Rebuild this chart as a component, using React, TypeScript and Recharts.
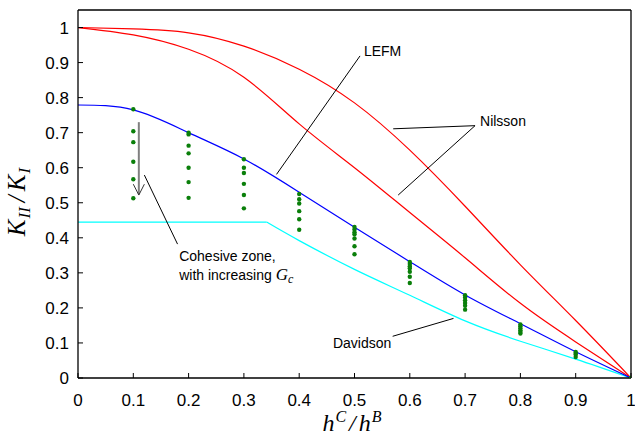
import {
  ComposedChart,
  Line,
  Scatter,
  XAxis,
  YAxis,
  ReferenceLine,
  ReferenceDot,
} from "recharts";

// crack length ratio h^C/h^B sampled along the curves
const ratioX = [0, 0.1, 0.2, 0.3, 0.4, 0.5, 0.6, 0.7, 0.8, 0.9, 1];
const nilssonUpper = [1, 0.996, 0.985, 0.947, 0.881, 0.785, 0.65, 0.49, 0.323, 0.164, 0];
const nilssonLower = [1, 0.979, 0.938, 0.858, 0.725, 0.6, 0.472, 0.343, 0.213, 0.103, 0];
const lefm = [0.779, 0.765, 0.7, 0.625, 0.53, 0.43, 0.332, 0.237, 0.155, 0.075, 0];

// Davidson: plateau, then a decaying branch
const davidsonFlatX = [0, 0.341];
const davidsonFlat = [0.445, 0.445];
const davidsonX = [0.341, 0.4, 0.5, 0.6, 0.7, 0.8, 0.9, 1];
const davidson = [0.445, 0.392, 0.31, 0.236, 0.163, 0.105, 0.054, 0];

// cohesive zone results, one column per ratio, G_c increasing downwards
const czX = [0.1, 0.2, 0.3, 0.4, 0.5, 0.6, 0.7, 0.8, 0.9, 1];
const czValues = [
  [0.767, 0.704, 0.673, 0.617, 0.567, 0.513],
  [0.7, 0.695, 0.663, 0.641, 0.6, 0.559, 0.514],
  [0.624, 0.6, 0.585, 0.554, 0.522, 0.484],
  [0.525, 0.51, 0.498, 0.476, 0.453, 0.423],
  [0.431, 0.424, 0.416, 0.41, 0.398, 0.376, 0.353],
  [0.331, 0.325, 0.319, 0.313, 0.303, 0.289, 0.271],
  [0.236, 0.23, 0.222, 0.214, 0.206, 0.195],
  [0.153, 0.148, 0.142, 0.136, 0.131, 0.127],
  [0.074, 0.071, 0.067, 0.06],
  [0],
];

const xTicks = [0, 0.1, 0.2, 0.3, 0.4, 0.5, 0.6, 0.7, 0.8, 0.9, 1];
const yTicks = [0, 0.1, 0.2, 0.3, 0.4, 0.5, 0.6, 0.7, 0.8, 0.9, 1];

const pts = (xs: number[], ys: number[]) => xs.map((x, i) => ({ x, y: ys[i] }));
const czPoints = czX.flatMap((x, i) => czValues[i].map((y) => ({ x, y })));

const SANS = "'Liberation Sans', Arial, sans-serif";
const SERIF = "'Liberation Serif', 'Times New Roman', serif";
const TICK = 5;

const BottomTick = ({ x, y, payload }: any) => (
  <g>
    <line x1={x} x2={x} y1={y} y2={y - TICK} stroke="#000" />
    <text x={x} y={y + 28} textAnchor="middle" fontSize={17} fontFamily={SANS} fill="#000">
      {String(payload.value)}
    </text>
  </g>
);
const TopTick = ({ x, y }: any) => <line x1={x} x2={x} y1={y} y2={y + TICK} stroke="#000" />;
const LeftTick = ({ x, y, payload }: any) => (
  <g>
    <line x1={x} x2={x + TICK} y1={y} y2={y} stroke="#000" />
    <text x={x - 9} y={y + 6} textAnchor="end" fontSize={17} fontFamily={SANS} fill="#000">
      {String(payload.value)}
    </text>
  </g>
);
const RightTick = ({ x, y }: any) => <line x1={x - TICK} x2={x} y1={y} y2={y} stroke="#000" />;

const note = (text: string) => (p: any) => (
  <text x={p.cx} y={p.cy} fontSize={14} fontFamily={SANS} fill="#000">
    {text}
  </text>
);

const cohesiveNote = (p: any) => (
  <text x={p.cx} y={p.cy} fontSize={14} fontFamily={SANS} fill="#000">
    <tspan x={p.cx}>Cohesive zone,</tspan>
    <tspan x={p.cx} dy={19}>with increasing </tspan>
    <tspan fontFamily={SERIF} fontStyle="italic" fontSize={17}>G</tspan>
    <tspan fontFamily={SERIF} fontStyle="italic" fontSize={12} dy={3}>c</tspan>
  </text>
);

const dotShape = (p: any) => <circle cx={p.cx} cy={p.cy} r={2.2} fill="#0a7f0a" />;

const leader = { stroke: "#000", strokeWidth: 1 };

export default function App() {
  return (
    <div style={{ position: "absolute", left: 0, top: 0, background: "#fff" }}>
      <ComposedChart width={635} height={439} margin={{ top: 0, right: 0, bottom: 0, left: 0 }}>
        <XAxis
          dataKey="x"
          type="number"
          domain={[0, 1]}
          ticks={xTicks}
          height={61}
          tickSize={0}
          tickMargin={0}
          tick={BottomTick}
          tickLine={false}
          axisLine={{ stroke: "#000", strokeWidth: 1.3 }}
          allowDataOverflow
        />
        <XAxis
          xAxisId="top"
          orientation="top"
          type="number"
          domain={[0, 1]}
          ticks={xTicks}
          height={10}
          tickSize={0}
          tickMargin={0}
          tick={TopTick}
          tickLine={false}
          axisLine={{ stroke: "#000", strokeWidth: 1.3 }}
        />
        <YAxis
          dataKey="y"
          type="number"
          domain={[0, 1.05]}
          ticks={yTicks}
          width={78}
          tickSize={0}
          tickMargin={0}
          tick={LeftTick}
          tickLine={false}
          axisLine={{ stroke: "#000", strokeWidth: 1.3 }}
          allowDataOverflow
        />
        <YAxis
          yAxisId="right"
          orientation="right"
          type="number"
          domain={[0, 1.05]}
          ticks={yTicks}
          width={4}
          tickSize={0}
          tickMargin={0}
          tick={RightTick}
          tickLine={false}
          axisLine={{ stroke: "#000", strokeWidth: 1.3 }}
        />

        <Line data={pts(ratioX, nilssonUpper)} dataKey="y" type="natural" stroke="#ff0000" strokeWidth={1.2} dot={false} isAnimationActive={false} />
        <Line data={pts(ratioX, nilssonLower)} dataKey="y" type="natural" stroke="#ff0000" strokeWidth={1.2} dot={false} isAnimationActive={false} />
        <Line data={pts(davidsonFlatX, davidsonFlat)} dataKey="y" type="linear" stroke="#00ffff" strokeWidth={1.2} dot={false} isAnimationActive={false} />
        <Line data={pts(davidsonX, davidson)} dataKey="y" type="natural" stroke="#00ffff" strokeWidth={1.2} dot={false} isAnimationActive={false} />
        <Line data={pts(ratioX, lefm)} dataKey="y" type="natural" stroke="#0000ff" strokeWidth={1.2} dot={false} isAnimationActive={false} />
        <Scatter data={czPoints} dataKey="y" shape={dotShape} isAnimationActive={false} />

        {/* G_c arrow */}
        <ReferenceLine segment={[{ x: 0.11, y: 0.73 }, { x: 0.11, y: 0.524 }]} stroke="#808080" strokeWidth={2} />
        <ReferenceLine segment={[{ x: 0.1, y: 0.553 }, { x: 0.11, y: 0.522 }]} stroke="#333" strokeWidth={1} />
        <ReferenceLine segment={[{ x: 0.12, y: 0.553 }, { x: 0.11, y: 0.522 }]} stroke="#333" strokeWidth={1} />

        {/* leaders */}
        <ReferenceLine segment={[{ x: 0.359, y: 0.581 }, { x: 0.51, y: 0.919 }]} {...leader} />
        <ReferenceLine segment={[{ x: 0.718, y: 0.72 }, { x: 0.57, y: 0.711 }]} {...leader} />
        <ReferenceLine segment={[{ x: 0.718, y: 0.72 }, { x: 0.579, y: 0.522 }]} {...leader} />
        <ReferenceLine segment={[{ x: 0.12, y: 0.579 }, { x: 0.18, y: 0.382 }]} {...leader} />
        <ReferenceLine segment={[{ x: 0.569, y: 0.119 }, { x: 0.679, y: 0.17 }]} {...leader} />

        <ReferenceDot x={0.517} y={0.92} r={1} shape={note("LEFM")} />
        <ReferenceDot x={0.727} y={0.719} r={1} shape={note("Nilsson")} />
        <ReferenceDot x={0.183} y={0.333} r={1} shape={cohesiveNote} />
        <ReferenceDot x={0.461} y={0.087} r={1} shape={note("Davidson")} />

        {/* axis titles */}
        <text x={352} y={431} textAnchor="middle" fontFamily={SERIF} fontStyle="italic" fontSize={24} fill="#000">
          <tspan>h</tspan>
          <tspan fontSize={16} dy={-9} dx={1}>C</tspan>
          <tspan dy={9} dx={3}>/</tspan>
          <tspan dx={3}>h</tspan>
          <tspan fontSize={16} dy={-9} dx={1}>B</tspan>
        </text>
        <text
          transform="translate(25,202) rotate(-90)"
          textAnchor="middle"
          fontFamily={SERIF}
          fontStyle="italic"
          fontSize={25}
          fill="#000"
        >
          <tspan>K</tspan>
          <tspan fontSize={17} dy={5} dx={1}>II</tspan>
          <tspan dy={-5} dx={5}>/</tspan>
          <tspan dx={4}>K</tspan>
          <tspan fontSize={17} dy={5} dx={1}>I</tspan>
        </text>
      </ComposedChart>
    </div>
  );
}
